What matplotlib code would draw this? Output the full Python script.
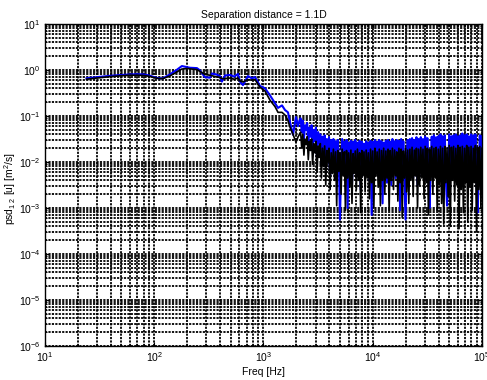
# psd_separation.py
# Cross-spectral density of u at 1.1D separation, two runs on log-log axes

import numpy as np
import matplotlib.pyplot as plt
from matplotlib.ticker import LogLocator

plt.rcParams['font.family'] = ['Liberation Sans', 'DejaVu Sans']
plt.rcParams['mathtext.fontset'] = 'custom'
plt.rcParams['mathtext.rm'] = 'Liberation Sans'
plt.rcParams['mathtext.it'] = 'Liberation Sans:italic'

# Low frequency part, Hz
freq_low = [24, 30, 40, 50, 60, 70, 80, 90, 100, 110, 120, 139, 160, 179, 200, 212,
            246, 262, 291, 324, 338, 370, 399, 416, 444, 494, 540, 584, 609, 649,
            721, 780, 836, 929, 1032, 1148, 1275, 1358, 1477, 1574, 1676, 1749,
            1862, 1983, 2069, 2138]

psd_blue_low = [0.66, 0.70, 0.75, 0.78, 0.80, 0.81, 0.80, 0.76, 0.70, 0.66, 0.66, 0.80,
                1.00, 1.22, 1.15, 1.12, 1.10, 0.98, 0.70, 0.68, 0.84, 0.80, 0.74, 0.56,
                0.76, 0.78, 0.72, 0.82, 0.56, 0.47, 0.74, 0.66, 0.70, 0.45, 0.40, 0.28,
                0.19, 0.15, 0.17, 0.135, 0.12, 0.074, 0.039, 0.095, 0.06, 0.08]

psd_black_low = [0.63, 0.67, 0.72, 0.75, 0.77, 0.77, 0.76, 0.73, 0.68, 0.65, 0.65, 0.74,
                 0.90, 1.05, 1.08, 1.06, 1.02, 0.93, 0.80, 0.77, 0.75, 0.71, 0.69, 0.65,
                 0.65, 0.67, 0.63, 0.67, 0.58, 0.55, 0.62, 0.60, 0.62, 0.42, 0.35, 0.22,
                 0.16, 0.12, 0.12, 0.105, 0.08, 0.057, 0.04, 0.027, 0.035, 0.04]

# High frequency part, stored as log10 of frequency and log10 of psd
freq_exp_high = [
    3.34, 3.35, 3.36, 3.37, 3.38, 3.39, 3.40, 3.41, 3.42, 3.43,
    3.44, 3.45, 3.46, 3.47, 3.48, 3.49, 3.50, 3.51, 3.52, 3.53,
    3.54, 3.55, 3.56, 3.57, 3.58, 3.59, 3.60, 3.61, 3.62, 3.63,
    3.64, 3.65, 3.66, 3.67, 3.68, 3.69, 3.70, 3.71, 3.72, 3.73,
    3.74, 3.75, 3.76, 3.77, 3.78, 3.79, 3.80, 3.81, 3.82, 3.83,
    3.84, 3.85, 3.86, 3.87, 3.88, 3.89, 3.90, 3.91, 3.92, 3.93,
    3.94, 3.95, 3.96, 3.97, 3.98, 3.99, 4.00, 4.01, 4.02, 4.03,
    4.04, 4.05, 4.06, 4.07, 4.08, 4.09, 4.10, 4.11, 4.12, 4.13,
    4.14, 4.15, 4.16, 4.17, 4.18, 4.19, 4.20, 4.21, 4.22, 4.23,
    4.24, 4.25, 4.26, 4.27, 4.28, 4.29, 4.30, 4.31, 4.32, 4.33,
    4.34, 4.35, 4.36, 4.37, 4.38, 4.39, 4.40, 4.41, 4.42, 4.43,
    4.44, 4.45, 4.46, 4.47, 4.48, 4.49, 4.50, 4.51, 4.52, 4.53,
    4.54, 4.55, 4.56, 4.57, 4.58, 4.59, 4.60, 4.61, 4.62, 4.63,
    4.64, 4.65, 4.66, 4.67, 4.68, 4.69, 4.70, 4.71, 4.72, 4.73,
    4.74, 4.75, 4.76, 4.77, 4.78, 4.79, 4.80, 4.81, 4.82, 4.83,
    4.84, 4.85, 4.86, 4.87, 4.88, 4.89, 4.90, 4.91, 4.92, 4.93,
    4.94, 4.95, 4.96, 4.97, 4.98, 4.99, 5.00]

psd_exp_blue_high = [
    -1.05, -1.35, -1.10, -1.50, -1.20, -1.30, -1.15, -1.60, -1.25, -1.45,
    -1.20, -1.75, -1.30, -1.55, -1.25, -1.90, -1.35, -1.60, -1.40, -2.00,
    -1.45, -1.85, -1.42, -2.10, -1.50, -1.80, -1.46, -2.30, -1.52, -1.95,
    -1.50, -2.10, -1.55, -2.40, -1.52, -1.95, -3.25, -2.20, -1.50, -2.00,
    -1.56, -2.30, -1.52, -3.00, -1.58, -2.10, -1.54, -2.50, -1.56, -2.00,
    -1.52, -2.25, -1.58, -2.05, -1.54, -2.60, -1.56, -2.10, -1.60, -2.30,
    -1.55, -2.10, -1.58, -2.40, -1.54, -3.15, -1.56, -2.20, -1.52, -2.05,
    -1.56, -2.30, -1.52, -2.10, -1.55, -2.90, -1.58, -2.20, -1.54, -2.45,
    -1.52, -2.15, -1.56, -2.50, -1.50, -2.05, -1.55, -2.35, -1.52, -2.10,
    -1.54, -3.05, -1.50, -2.20, -1.55, -2.40, -3.25, -2.10, -1.52, -2.30,
    -1.50, -2.15, -1.48, -2.35, -1.52, -2.05, -1.46, -2.50, -1.50, -2.10,
    -1.46, -2.30, -1.50, -2.10, -1.45, -2.40, -1.48, -2.20, -3.00, -2.10,
    -1.45, -2.30, -1.42, -2.15, -1.46, -2.45, -1.44, -2.20, -1.40, -2.35,
    -1.44, -2.10, -1.42, -2.40, -2.95, -2.20, -1.40, -2.30, -1.44, -2.15,
    -1.42, -2.35, -1.40, -2.10, -1.44, -2.50, -1.42, -2.20, -1.38, -2.30,
    -1.42, -2.15, -1.40, -2.40, -1.44, -2.10, -1.40, -2.30, -1.42, -2.20,
    -1.40, -2.35, -3.10, -2.15, -1.42, -2.30, -1.44]

psd_exp_black_high = [
    -1.35, -1.70, -1.40, -1.85, -1.50, -1.62, -1.45, -1.95, -1.55, -1.75,
    -1.50, -2.05, -1.60, -1.80, -1.55, -2.20, -1.65, -1.90, -1.60, -2.35,
    -1.70, -2.10, -1.65, -2.50, -1.75, -2.00, -1.70, -2.60, -1.80, -2.25,
    -1.72, -2.40, -1.78, -2.95, -1.75, -2.20, -1.80, -2.70, -1.72, -2.30,
    -1.78, -3.05, -1.75, -2.35, -1.80, -2.55, -1.74, -2.90, -1.82, -2.25,
    -1.76, -2.60, -1.72, -2.40, -1.80, -3.10, -1.75, -2.30, -1.78, -2.65,
    -1.74, -2.35, -1.80, -2.80, -1.72, -2.45, -1.76, -3.00, -1.70, -2.30,
    -1.78, -2.55, -1.72, -2.95, -1.75, -2.40, -1.70, -2.70, -1.76, -2.35,
    -1.72, -3.05, -1.75, -2.40, -1.70, -2.60, -1.74, -2.30, -1.78, -2.85,
    -1.70, -2.45, -1.72, -3.20, -1.76, -2.35, -1.70, -2.65, -1.74, -2.90,
    -1.72, -2.40, -1.68, -2.75, -1.74, -2.30, -1.70, -3.00, -1.72, -2.50,
    -1.68, -2.35, -1.72, -2.80, -1.66, -2.45, -1.70, -3.15, -1.72, -2.40,
    -1.66, -2.70, -1.70, -2.35, -1.68, -3.05, -1.72, -2.50, -1.66, -2.90,
    -1.70, -3.35, -1.66, -2.45, -1.70, -2.75, -1.64, -3.40, -1.68, -2.40,
    -1.66, -2.85, -1.70, -2.50, -1.64, -3.45, -1.68, -2.60, -1.66, -3.10,
    -1.70, -2.45, -1.64, -3.30, -1.68, -2.55, -1.66, -3.05, -1.70, -2.45,
    -1.64, -3.50, -1.68, -2.60, -1.66, -3.00, -1.70]

freq = np.concatenate([freq_low, 10.0 ** np.array(freq_exp_high)])
psd_blue = np.concatenate([psd_blue_low, 10.0 ** np.array(psd_exp_blue_high)])
psd_black = np.concatenate([psd_black_low, 10.0 ** np.array(psd_exp_black_high)])

fig = plt.figure(figsize=(4.87, 3.80), dpi=100)
ax = fig.add_axes([0.0924, 0.0895, 0.8973, 0.8473])

ax.loglog(freq, psd_blue, color='#0000ff', linewidth=1.5)
ax.loglog(freq, psd_black, color='black', linewidth=1.2)

ax.set_xlim(1e1, 1e5)
ax.set_ylim(1e-6, 1e1)

# MATLAB style dotted grid on every decade and sub-decade
for axis in (ax.xaxis, ax.yaxis):
    axis.set_major_locator(LogLocator(base=10, numticks=20))
    axis.set_minor_locator(LogLocator(base=10, subs=np.arange(2, 10), numticks=100))
ax.grid(True, which='both', color='black', linestyle=(0, (1.2, 0.7)), linewidth=1.3)
ax.set_axisbelow(True)

ax.tick_params(which='both', direction='in', top=True, right=True, labelsize=7.5, pad=3)
ax.tick_params(which='major', length=3)
ax.tick_params(which='minor', length=1.5)
for sp in ax.spines.values():
    sp.set_linewidth(1.0)

ax.set_title('Separation distance = 1.1D', fontsize=7.5, pad=4)
ax.set_xlabel('Freq [Hz]', fontsize=7.5, labelpad=2)
ax.set_ylabel('psd$_{1\\ 2}$ [u] [m$^2$/s]', fontsize=7.5)
ax.yaxis.set_label_coords(-0.062, 0.49)

fig.savefig('out.png', dpi=100)
